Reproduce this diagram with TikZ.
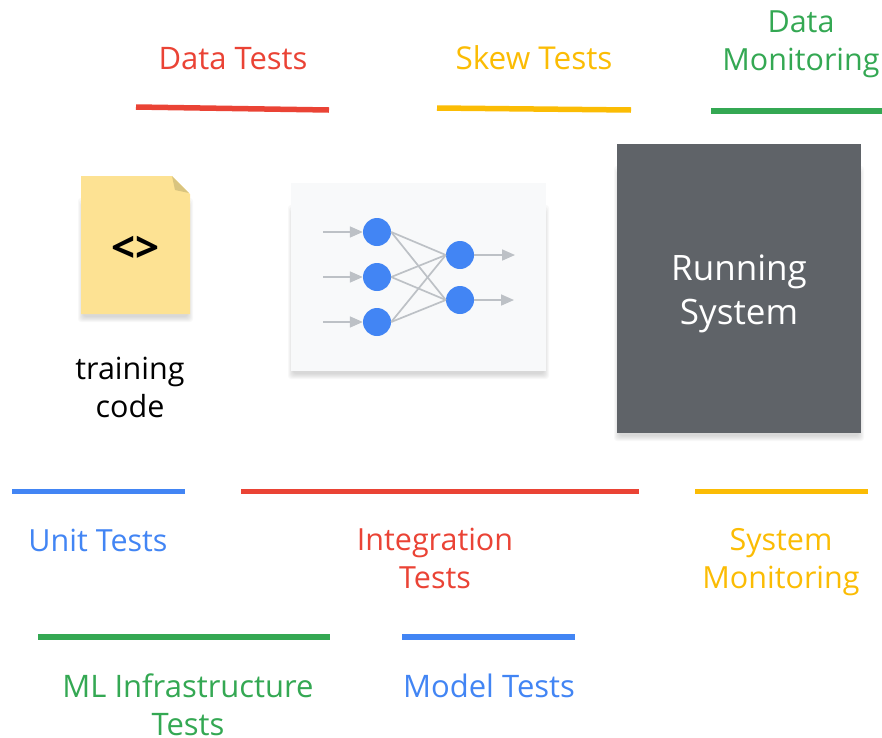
\documentclass[tikz,border=0pt]{standalone}
\usepackage{fontspec}
\setmainfont{Open Sans}
\usetikzlibrary{arrows.meta}
\definecolor{gred}{HTML}{EA4335}
\definecolor{gyellow}{HTML}{FBBC04}
\definecolor{ggreen}{HTML}{34A853}
\definecolor{gblue}{HTML}{4285F4}
\definecolor{darkbox}{HTML}{5F6368}
\definecolor{paper}{HTML}{FDE293}
\definecolor{fold}{HTML}{D9C47F}
\definecolor{panel}{HTML}{F8F9FA}
\definecolor{wire}{HTML}{BDC1C6}
\tikzset{
  lbl/.style={font=\fontsize{30.5}{38}\selectfont, align=center, inner sep=0pt},
  lblb/.style={lbl, font=\fontsize{31}{38}\selectfont},
  bar/.style={line width=5.5pt},
  neuron/.style={circle, fill=gblue, minimum size=28pt, inner sep=0pt},
  syn/.style={draw=wire, line width=1.7pt},
  arr/.style={draw=wire, line width=1.7pt, -{Triangle[length=13pt,width=11pt]}},
  softshadow/.style={fill=black, opacity=.028, rounded corners=3pt}
}
\newcommand{\softbox}[4]{%
  \foreach \d in {0,1,2,3,4,5}{
    \fill[softshadow] ({#1-3+\d},{#2+22+2*\d}) rectangle ({#3+3-\d},{#4+8-\d});
  }}
\begin{document}
\begin{tikzpicture}[x=1pt,y=-1pt]
\useasboundingbox (0,0) rectangle (882,737);
% top bars
\coordinate (b1a) at (136,107); \coordinate (b1b) at (329,110);
\coordinate (b2a) at (437,108); \coordinate (b2b) at (631,110);
\coordinate (b3a) at (711,111); \coordinate (b3b) at (882,111);
\draw[bar,gred] (b1a) -- (b1b);
\draw[bar,gyellow] (b2a) -- (b2b);
\draw[bar,ggreen] (b3a) -- (b3b);
\node[lblb,text=gred] (datatests) at (233,59) {Data Tests};
\node[lbl,font=\fontsize{31.5}{38}\selectfont,text=gyellow] (skewtests) at (534,58) {Skew Tests};
\node[lbl,text=ggreen] (datamon) at (801,44) {Data\\Monitoring};
% document
\softbox{81}{176}{190}{314}
\fill[paper] (81,176) -- (172,176) -- (190,194) -- (190,314) -- (81,314) -- cycle;
\fill[fold] (172,176) -- (189,193) -- (175,190) -- cycle;
\node[inner sep=0pt,font=\fontsize{42}{42}\bfseries\selectfont] (code) at (135,249) {<>};
\node[lbl,text=black] (training) at (130,387) {training\\code};
% network panel
\softbox{291}{183}{546}{371}
\fill[panel] (291,183) rectangle (546,371);
\node[neuron] (n1) at (377,232) {};
\node[neuron] (n2) at (377,277) {};
\node[neuron] (n3) at (377,322) {};
\node[neuron] (m1) at (460,255) {};
\node[neuron] (m2) at (460,300) {};
\coordinate (i1) at (323,232); \coordinate (i2) at (323,277); \coordinate (i3) at (323,322);
\coordinate (o1) at (515,255); \coordinate (o2) at (514,300);
\foreach \a in {n1,n2,n3}\foreach \b in {m1,m2}{\draw[syn] (\a.east) -- (\b.west);}
\draw[arr] (i1) -- (n1.west);
\draw[arr] (i2) -- (n2.west);
\draw[arr] (i3) -- (n3.west);
\draw[arr] (m1.east) -- (o1);
\draw[arr] (m2.east) -- (o2);
% running system
\softbox{617}{144}{861}{433}
\fill[darkbox] (617,144) rectangle (861,433);
\node[lbl,text=white,font=\fontsize{35}{44}\selectfont] (running) at (739,294) {Running\\System};
% bottom bars
\coordinate (c1a) at (12,491.5); \coordinate (c1b) at (185,491.5);
\coordinate (c2a) at (241,491.5); \coordinate (c2b) at (639,491.5);
\coordinate (c3a) at (695,491.5); \coordinate (c3b) at (868,491.5);
\coordinate (c4a) at (38,637); \coordinate (c4b) at (330,637);
\coordinate (c5a) at (402,637); \coordinate (c5b) at (575,637);
\draw[bar,gblue] (c1a) -- (c1b);
\draw[bar,gred] (c2a) -- (c2b);
\draw[bar,gyellow] (c3a) -- (c3b);
\draw[bar,ggreen] (c4a) -- (c4b);
\draw[bar,gblue] (c5a) -- (c5b);
\node[lbl,text=gblue] (unit) at (98,540) {Unit Tests};
\node[lbl,text=gred] (integ) at (435,558) {Integration\\Tests};
\node[lbl,text=gyellow] (sysmon) at (781,562) {System\\Monitoring};
\node[lblb,text=ggreen] (mlinfra) at (188,705) {ML Infrastructure\\Tests};
\node[lblb,text=gblue] (model) at (489,686) {Model Tests};
\end{tikzpicture}
\end{document}
